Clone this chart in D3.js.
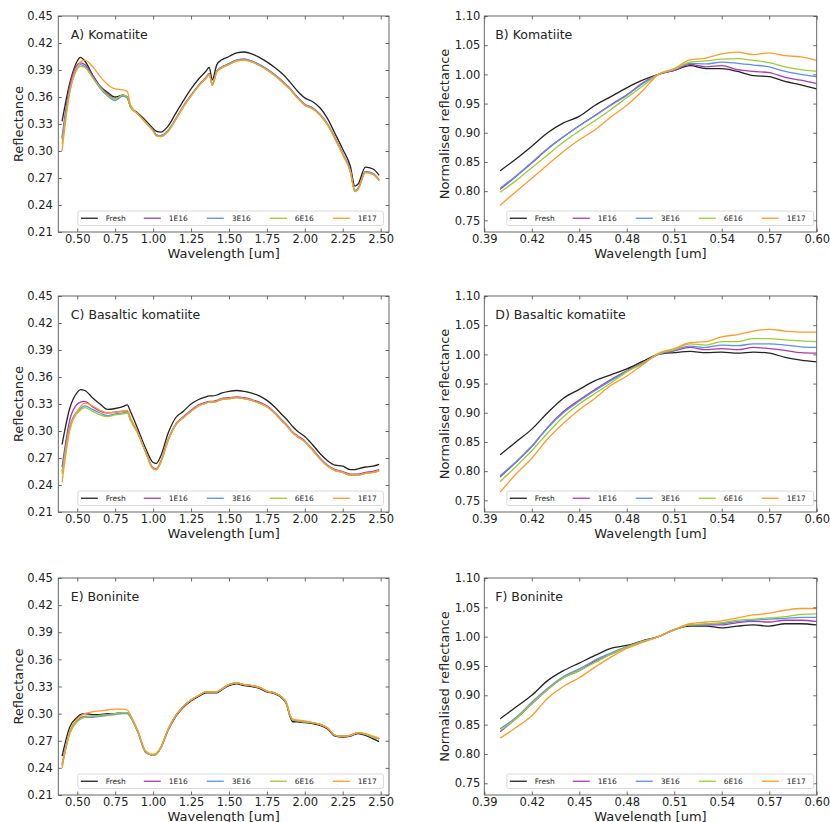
<!DOCTYPE html>
<html>
<head>
<meta charset="utf-8">
<script src="https://cdn.jsdelivr.net/npm/d3@7"></script>
<style>
  body { margin: 0; background: #fff; }
  text { font-family: "DejaVu Sans", sans-serif; fill: #222; }
</style>
</head>
<body>
<div id="chart"></div>
<script>
// series (irradiation fluence) and colours
const seriesNames = ["Fresh", "1E16", "3E16", "6E16", "1E17"];
const seriesColors = ["#222222", "#a93aa9", "#5f8ee8", "#9acd32", "#ff9a2e"];

// wavelength grids [um]
const wlFull = [0.40,0.45,0.50,0.52,0.55,0.60,0.65,0.70,0.75,0.80,0.83,0.85,0.90,0.95,1.00,1.02,1.05,1.10,1.15,1.20,
  1.25,1.30,1.35,1.37,1.39,1.42,1.45,1.50,1.55,1.60,1.65,1.70,1.75,1.80,1.85,1.88,1.90,1.92,1.95,2.00,
  2.05,2.10,2.15,2.20,2.25,2.30,2.33,2.35,2.40,2.45,2.49];
const wlZoom = [0.40,0.41,0.42,0.43,0.44,0.45,0.46,0.47,0.48,0.49,0.50,0.51,0.52,0.53,0.54,0.55,0.56,0.57,0.58,0.59,0.60];

// A) Komatiite reflectance, one array per series
const komatiiteFull = [
  [0.333,0.375,0.400,0.404,0.400,0.385,0.372,0.365,0.360,0.362,0.360,0.350,0.342,0.334,0.325,0.322,0.321,0.328,0.342,0.356,
   0.369,0.380,0.389,0.393,0.379,0.396,0.401,0.405,0.409,0.410,0.408,0.404,0.399,0.393,0.386,0.381,0.377,0.373,0.367,0.359,
   0.355,0.348,0.336,0.319,0.302,0.283,0.261,0.263,0.282,0.280,0.273],
  [0.315,0.372,0.396,0.398,0.396,0.384,0.372,0.363,0.358,0.362,0.359,0.350,0.341,0.332,0.323,0.318,0.317,0.323,0.336,0.350,
   0.362,0.373,0.382,0.386,0.374,0.389,0.393,0.397,0.401,0.402,0.400,0.396,0.391,0.385,0.378,0.373,0.370,0.366,0.360,0.352,
   0.348,0.341,0.330,0.314,0.297,0.278,0.256,0.258,0.277,0.275,0.268],
  [0.313,0.368,0.393,0.396,0.394,0.382,0.370,0.361,0.356,0.361,0.359,0.349,0.341,0.332,0.323,0.318,0.317,0.323,0.336,0.350,
   0.362,0.373,0.382,0.386,0.374,0.389,0.393,0.397,0.401,0.402,0.400,0.396,0.391,0.385,0.378,0.373,0.370,0.366,0.360,0.352,
   0.348,0.341,0.330,0.314,0.297,0.278,0.256,0.258,0.277,0.275,0.268],
  [0.308,0.365,0.391,0.394,0.393,0.382,0.371,0.362,0.358,0.362,0.360,0.349,0.341,0.332,0.322,0.317,0.316,0.322,0.335,0.349,
   0.361,0.372,0.381,0.385,0.373,0.388,0.392,0.396,0.400,0.401,0.399,0.395,0.390,0.384,0.377,0.372,0.369,0.365,0.359,0.351,
   0.347,0.340,0.329,0.313,0.296,0.277,0.255,0.257,0.276,0.274,0.267],
  [0.300,0.365,0.393,0.399,0.401,0.394,0.383,0.374,0.369,0.368,0.366,0.352,0.341,0.332,0.322,0.317,0.316,0.322,0.335,0.349,
   0.361,0.372,0.381,0.385,0.373,0.388,0.392,0.396,0.400,0.401,0.399,0.395,0.390,0.384,0.377,0.372,0.369,0.365,0.359,0.351,
   0.347,0.340,0.329,0.313,0.296,0.277,0.255,0.257,0.276,0.274,0.267]
];

// B) Komatiite normalised at 0.5 um
const komatiiteNorm = [
  [0.835,0.855,0.877,0.900,0.917,0.928,0.947,0.962,0.977,0.990,1.000,1.007,1.015,1.010,1.010,1.005,0.998,0.996,0.988,0.982,0.975],
  [0.803,0.825,0.848,0.872,0.893,0.912,0.930,0.948,0.965,0.985,1.000,1.007,1.017,1.013,1.015,1.008,1.005,1.003,0.995,0.990,0.984],
  [0.805,0.826,0.849,0.873,0.893,0.912,0.929,0.947,0.964,0.984,1.000,1.008,1.019,1.018,1.021,1.019,1.016,1.013,1.005,1.000,0.996],
  [0.798,0.818,0.840,0.862,0.884,0.903,0.921,0.940,0.960,0.980,1.000,1.009,1.021,1.023,1.026,1.027,1.024,1.020,1.013,1.008,1.005],
  [0.776,0.799,0.822,0.845,0.868,0.888,0.905,0.927,0.947,0.972,1.000,1.010,1.025,1.028,1.035,1.038,1.034,1.037,1.032,1.030,1.024]
];

// C) Basaltic komatiite reflectance
const basalticFull = [
  [0.285,0.325,0.343,0.346,0.345,0.337,0.330,0.324,0.325,0.327,0.329,0.322,0.302,0.281,0.265,0.264,0.272,0.298,0.315,0.322,
   0.330,0.335,0.338,0.339,0.339,0.340,0.342,0.344,0.345,0.344,0.342,0.339,0.334,0.327,0.318,0.313,0.309,0.305,0.300,0.294,
   0.285,0.275,0.267,0.262,0.261,0.257,0.257,0.258,0.260,0.261,0.263],
  [0.260,0.312,0.330,0.332,0.333,0.327,0.322,0.320,0.321,0.322,0.322,0.314,0.298,0.277,0.259,0.258,0.266,0.291,0.308,0.316,
   0.323,0.329,0.332,0.333,0.333,0.334,0.336,0.337,0.338,0.337,0.335,0.332,0.328,0.321,0.312,0.307,0.303,0.299,0.295,0.289,
   0.280,0.270,0.262,0.257,0.255,0.252,0.252,0.252,0.254,0.255,0.257],
  [0.255,0.305,0.322,0.325,0.328,0.324,0.320,0.317,0.319,0.320,0.321,0.313,0.297,0.277,0.258,0.257,0.265,0.290,0.307,0.315,
   0.322,0.328,0.331,0.332,0.332,0.333,0.335,0.336,0.337,0.336,0.334,0.331,0.327,0.320,0.311,0.306,0.302,0.298,0.294,0.288,
   0.279,0.269,0.261,0.256,0.254,0.251,0.251,0.251,0.253,0.254,0.256],
  [0.252,0.303,0.320,0.323,0.326,0.322,0.318,0.316,0.318,0.319,0.320,0.312,0.297,0.277,0.258,0.257,0.265,0.290,0.307,0.315,
   0.322,0.328,0.331,0.332,0.332,0.333,0.335,0.336,0.337,0.336,0.334,0.331,0.327,0.320,0.311,0.306,0.302,0.298,0.294,0.288,
   0.279,0.269,0.261,0.256,0.254,0.251,0.251,0.251,0.253,0.254,0.256],
  [0.243,0.300,0.322,0.327,0.331,0.328,0.323,0.320,0.321,0.322,0.323,0.315,0.298,0.277,0.258,0.257,0.265,0.290,0.307,0.315,
   0.322,0.328,0.331,0.332,0.332,0.333,0.335,0.336,0.337,0.336,0.334,0.331,0.327,0.320,0.311,0.306,0.302,0.298,0.294,0.288,
   0.279,0.269,0.261,0.256,0.254,0.251,0.251,0.251,0.253,0.254,0.256]
];

// D) Basaltic komatiite normalised
const basalticNorm = [
  [0.828,0.850,0.872,0.900,0.925,0.940,0.955,0.965,0.975,0.988,1.000,1.003,1.005,1.003,1.004,1.002,1.004,1.002,0.995,0.990,0.987],
  [0.790,0.815,0.842,0.875,0.902,0.922,0.940,0.957,0.972,0.985,1.000,1.006,1.012,1.008,1.010,1.008,1.012,1.010,1.007,1.003,1.002],
  [0.792,0.816,0.843,0.874,0.900,0.920,0.938,0.955,0.971,0.985,1.000,1.007,1.014,1.012,1.016,1.015,1.018,1.018,1.016,1.013,1.012],
  [0.782,0.808,0.835,0.865,0.893,0.915,0.933,0.951,0.970,0.984,1.001,1.008,1.018,1.016,1.022,1.022,1.027,1.027,1.025,1.023,1.022],
  [0.764,0.795,0.822,0.855,0.882,0.905,0.925,0.947,0.963,0.982,1.002,1.010,1.020,1.022,1.030,1.034,1.040,1.043,1.040,1.038,1.038]
];

// E) Boninite reflectance
const boniniteFull = [
  [0.253,0.285,0.296,0.299,0.300,0.299,0.299,0.300,0.300,0.301,0.301,0.297,0.280,0.258,0.254,0.255,0.262,0.282,0.297,0.307,
   0.314,0.319,0.323,0.323,0.323,0.323,0.326,0.331,0.333,0.331,0.330,0.328,0.324,0.322,0.317,0.310,0.298,0.291,0.291,0.290,
   0.289,0.287,0.283,0.275,0.274,0.275,0.277,0.278,0.276,0.272,0.269],
  [0.243,0.278,0.292,0.295,0.297,0.297,0.298,0.299,0.300,0.301,0.301,0.297,0.280,0.258,0.254,0.255,0.262,0.283,0.298,0.308,
   0.315,0.320,0.324,0.324,0.324,0.324,0.327,0.332,0.334,0.332,0.331,0.329,0.325,0.323,0.318,0.311,0.299,0.293,0.292,0.291,
   0.290,0.288,0.284,0.276,0.275,0.276,0.278,0.279,0.277,0.274,0.272],
  [0.245,0.280,0.292,0.294,0.296,0.296,0.297,0.298,0.299,0.300,0.300,0.296,0.279,0.257,0.254,0.255,0.262,0.283,0.298,0.308,
   0.315,0.320,0.324,0.324,0.324,0.324,0.327,0.332,0.334,0.332,0.331,0.329,0.325,0.323,0.318,0.311,0.299,0.293,0.292,0.291,
   0.290,0.288,0.284,0.276,0.275,0.276,0.278,0.279,0.277,0.274,0.272],
  [0.242,0.278,0.291,0.294,0.296,0.297,0.298,0.299,0.300,0.301,0.301,0.297,0.280,0.258,0.254,0.255,0.262,0.283,0.298,0.308,
   0.315,0.320,0.324,0.324,0.324,0.324,0.327,0.332,0.334,0.332,0.331,0.329,0.325,0.323,0.318,0.311,0.299,0.293,0.292,0.291,
   0.290,0.288,0.284,0.276,0.275,0.276,0.278,0.279,0.277,0.274,0.272],
  [0.240,0.280,0.294,0.297,0.300,0.302,0.303,0.304,0.305,0.305,0.304,0.299,0.281,0.259,0.255,0.256,0.263,0.283,0.298,0.308,
   0.315,0.320,0.324,0.324,0.324,0.324,0.327,0.332,0.334,0.332,0.331,0.329,0.325,0.323,0.318,0.312,0.300,0.294,0.293,0.292,
   0.290,0.288,0.284,0.276,0.275,0.276,0.278,0.279,0.278,0.275,0.273]
];

// F) Boninite normalised
const bonininteNorm = [
  [0.860,0.880,0.900,0.925,0.942,0.955,0.968,0.980,0.985,0.993,1.000,1.012,1.018,1.018,1.015,1.018,1.020,1.018,1.022,1.022,1.020],
  [0.838,0.860,0.885,0.910,0.930,0.942,0.958,0.970,0.982,0.992,1.000,1.012,1.020,1.020,1.020,1.024,1.026,1.025,1.028,1.028,1.026],
  [0.843,0.862,0.888,0.912,0.932,0.945,0.960,0.972,0.983,0.992,1.000,1.011,1.020,1.021,1.022,1.026,1.028,1.030,1.031,1.033,1.033],
  [0.840,0.860,0.886,0.910,0.930,0.942,0.956,0.970,0.982,0.992,1.000,1.012,1.020,1.022,1.024,1.028,1.030,1.032,1.034,1.038,1.039],
  [0.827,0.845,0.865,0.895,0.915,0.930,0.948,0.965,0.980,0.990,1.000,1.012,1.022,1.025,1.027,1.032,1.037,1.040,1.045,1.048,1.048]
];

// tick values
const fullTicksX = [0.50,0.75,1.00,1.25,1.50,1.75,2.00,2.25,2.50];
const fullTicksY = [0.21,0.24,0.27,0.30,0.33,0.36,0.39,0.42,0.45];
const zoomTicksX = [0.39,0.42,0.45,0.48,0.51,0.54,0.57,0.60];
const zoomTicksY = [0.75,0.80,0.85,0.90,0.95,1.00,1.05,1.10];

const panels = [
  {title: "A) Komatiite", kind: "full", values: komatiiteFull, col: 0, row: 0},
  {title: "B) Komatiite", kind: "zoom", values: komatiiteNorm, col: 1, row: 0},
  {title: "C) Basaltic komatiite", kind: "full", values: basalticFull, col: 0, row: 1},
  {title: "D) Basaltic komatiite", kind: "zoom", values: basalticNorm, col: 1, row: 1},
  {title: "E) Boninite", kind: "full", values: boniniteFull, col: 0, row: 2},
  {title: "F) Boninite", kind: "zoom", values: bonininteNorm, col: 1, row: 2}
];

const width = 830, height = 822;
const colX = [{x0: 58.3, x1: 389, labelPad: 5.5, ylabelX: 22.5, yTitle: "Reflectance"},
              {x0: 484.3, x1: 816.7, labelPad: 4, ylabelX: 449, yTitle: "Normalised reflectance"}];
const rowY = [{y0: 16, y1: 232}, {y0: 296, y1: 512}, {y0: 578, y1: 795}];

const svg = d3.select("#chart").append("svg")
    .attr("width", width)
    .attr("height", height);

panels.forEach((p, pi) => {
    const c = colX[p.col], r = rowY[p.row];
    const full = p.kind === "full";
    const wl = full ? wlFull : wlZoom;

    const x = d3.scaleLinear()
        .domain(full ? [0.375, 2.555] : [0.39, 0.60])
        .range([c.x0, c.x1]);
    const y = d3.scaleLinear()
        .domain(full ? [0.21, 0.45] : [0.73, 1.10])
        .range([r.y1, r.y0]);

    const g = svg.append("g");

    g.append("clipPath").attr("id", "clip" + pi)
      .append("rect")
        .attr("x", c.x0).attr("y", r.y0)
        .attr("width", c.x1 - c.x0).attr("height", r.y1 - r.y0);

    // curves
    const line = d3.line()
        .x((d, i) => x(wl[i]))
        .y(d => y(d))
        .curve(d3.curveMonotoneX);

    g.append("g").attr("clip-path", `url(#clip${pi})`)
      .selectAll("path")
      .data(p.values)
      .join("path")
        .attr("d", line)
        .attr("fill", "none")
        .attr("stroke", (d, i) => seriesColors[i])
        .attr("stroke-width", 1.3)
        .attr("stroke-linejoin", "round");

    const fmt = d3.format(".2f");
    const xt = full ? fullTicksX : zoomTicksX;
    const yt = full ? fullTicksY : zoomTicksY;

    // axes, ticks pointing inwards on every side
    const styleAxis = sel => {
        sel.select(".domain").remove();
        sel.selectAll(".tick line").attr("stroke", "#444").attr("stroke-width", 0.8);
        sel.selectAll("text").attr("font-size", "11.5px").attr("fill", "#222")
            .attr("font-family", "DejaVu Sans, sans-serif");
    };

    g.append("g")
        .attr("transform", `translate(0,${r.y1})`)
        .call(d3.axisBottom(x).tickValues(xt).tickFormat(fmt).tickSizeInner(-3.5).tickSizeOuter(0).tickPadding(3))
        .call(styleAxis);
    g.append("g")
        .attr("transform", `translate(0,${r.y0})`)
        .call(d3.axisTop(x).tickValues(xt).tickFormat("").tickSizeInner(-3.5).tickSizeOuter(0))
        .call(styleAxis);
    g.append("g")
        .attr("transform", `translate(${c.x0},0)`)
        .call(d3.axisLeft(y).tickValues(yt).tickFormat(fmt).tickSizeInner(-3.5).tickSizeOuter(0).tickPadding(c.labelPad))
        .call(styleAxis);
    g.append("g")
        .attr("transform", `translate(${c.x1},0)`)
        .call(d3.axisRight(y).tickValues(yt).tickFormat("").tickSizeInner(-3.5).tickSizeOuter(0))
        .call(styleAxis);

    // frame
    g.append("rect")
        .attr("x", c.x0).attr("y", r.y0)
        .attr("width", c.x1 - c.x0).attr("height", r.y1 - r.y0)
        .attr("fill", "none")
        .attr("stroke", "#555")
        .attr("stroke-width", 0.9);

    // axis labels
    g.append("text")
        .attr("x", (c.x0 + c.x1) / 2)
        .attr("y", r.y1 + 26)
        .attr("text-anchor", "middle")
        .attr("font-size", "13px")
        .text("Wavelength [um]");
    g.append("text")
        .attr("transform", `translate(${c.ylabelX},${(r.y0 + r.y1) / 2}) rotate(-90)`)
        .attr("text-anchor", "middle")
        .attr("font-size", "13px")
        .text(c.yTitle);

    // panel title
    g.append("text")
        .attr("x", c.x0 + (full ? 12.5 : 11))
        .attr("y", r.y0 + 22.5)
        .attr("font-size", "12.5px")
        .text(p.title);

    // legend, five columns across the bottom
    const lx0 = full ? c.x0 + 19.5 : c.x0 + 22.5;
    const lx1 = c.x1 - (full ? 5.5 : 3);
    const lh = 14.5;
    const ly = r.y1 - 6.5 - lh;
    const leg = g.append("g");
    leg.append("rect")
        .attr("x", lx0).attr("y", ly)
        .attr("width", lx1 - lx0).attr("height", lh)
        .attr("rx", 2)
        .attr("fill", "#fff").attr("fill-opacity", 0.85)
        .attr("stroke", "#d0d0d0").attr("stroke-width", 0.8);
    const stride = 63;
    seriesNames.forEach((name, i) => {
        const sx = lx0 + 3 + i * stride;
        leg.append("line")
            .attr("x1", sx).attr("x2", sx + 17)
            .attr("y1", ly + lh / 2).attr("y2", ly + lh / 2)
            .attr("stroke", seriesColors[i])
            .attr("stroke-width", 1.3);
        leg.append("text")
            .attr("x", sx + 25)
            .attr("y", ly + lh / 2)
            .attr("dy", "0.35em")
            .attr("font-size", "7.5px")
            .text(name);
    });
});
</script>
</body>
</html>
